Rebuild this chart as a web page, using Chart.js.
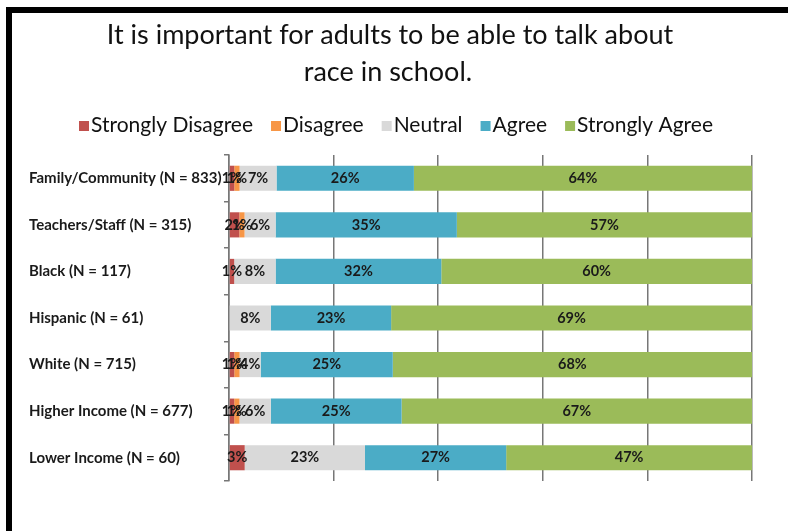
<!DOCTYPE html>
<html>
<head>
<meta charset="utf-8">
<script src="https://cdn.jsdelivr.net/npm/chart.js@4.4.1/dist/chart.umd.min.js"></script>
<style>
  html, body { margin: 0; padding: 0; background: #fff; }
  #wrap { position: relative; width: 788px; height: 531px; }
  #frame {
    position: absolute; left: 6px; top: 7px; right: 0; bottom: 0;
    border-top: 6px solid #000; border-left: 6px solid #000;
    pointer-events: none;
  }
</style>
</head>
<body>
<div id="wrap">
  <canvas id="raceChart" width="788" height="531"></canvas>
  <div id="frame"></div>
</div>
<script>
const titleLines = ['It is important for adults to be able to talk about', 'race in school.'];
const groups = [
  'Family/Community (N = 833)',
  'Teachers/Staff (N = 315)',
  'Black (N = 117)',
  'Hispanic (N = 61)',
  'White (N = 715)',
  'Higher Income (N = 677)',
  'Lower Income (N = 60)'
];
const responses = ['Strongly Disagree', 'Disagree', 'Neutral', 'Agree', 'Strongly Agree'];
const colors = ['#c0504d', '#f79646', '#d9d9d9', '#4bacc6', '#9bbb59'];

// percent of each group giving each answer
const stronglyDisagree = [1, 2, 1, 0, 1, 1, 3];
const disagree = [1, 1, 0, 0, 1, 1, 0];
const neutral = [7, 6, 8, 8, 4, 6, 23];
const agree = [26, 35, 32, 23, 25, 25, 27];
const stronglyAgree = [64, 57, 60, 69, 68, 67, 47];

const series = [stronglyDisagree, disagree, neutral, agree, stronglyAgree];
// rounded percents don't always add to 100, so scale each row to fill the bar
const rowTotals = groups.map((g, j) => series.reduce((s, arr) => s + arr[j], 0));

const FONT = 'Lato, "Liberation Sans", sans-serif';

// percent labels in the middle of each segment
const segmentLabels = {
  id: 'segmentLabels',
  afterDatasetsDraw(chart) {
    const ctx = chart.ctx;
    ctx.save();
    ctx.font = 'bold 14.5px ' + FONT;
    ctx.fillStyle = '#1a1a1a';
    ctx.textAlign = 'center';
    ctx.textBaseline = 'middle';
    chart.data.datasets.forEach((ds, i) => {
      chart.getDatasetMeta(i).data.forEach((bar, j) => {
        const v = ds.values[j];
        if (!v) return;
        const p = bar.getProps(['x', 'y', 'base'], true);
        ctx.fillText(v + '%', (p.x + p.base) / 2, p.y);
      });
    });
    ctx.restore();
  }
};

// two-line title and the legend row with tight boxes
const header = {
  id: 'header',
  afterDraw(chart) {
    const ctx = chart.ctx;
    ctx.save();
    ctx.fillStyle = '#111';
    ctx.textAlign = 'center';
    ctx.textBaseline = 'middle';
    ctx.font = '27px ' + FONT;
    ctx.fillText(titleLines[0], 390, 35);
    ctx.fillText(titleLines[1], 388, 72);

    ctx.font = '21px ' + FONT;
    ctx.textAlign = 'left';
    const box = 10, gap = 2, spacing = 18;
    const widths = responses.map(r => ctx.measureText(r).width);
    const total = widths.reduce((s, w) => s + box + gap + w, 0) + spacing * (responses.length - 1);
    let x = 396 - total / 2;
    const y = 125;
    responses.forEach((r, i) => {
      ctx.fillStyle = colors[i];
      ctx.fillRect(x, y - 4, box, box);
      ctx.fillStyle = '#111';
      ctx.fillText(r, x + box + gap, y);
      x += box + gap + widths[i] + spacing;
    });
    ctx.restore();
  }
};

new Chart(document.getElementById('raceChart'), {
  type: 'bar',
  data: {
    labels: groups,
    datasets: responses.map((r, i) => ({
      label: r,
      values: series[i],
      data: series[i].map((v, j) => v / rowTotals[j] * 100),
      backgroundColor: colors[i],
      borderWidth: 0,
      categoryPercentage: 1,
      barPercentage: 0.54
    }))
  },
  options: {
    indexAxis: 'y',
    responsive: false,
    animation: false,
    layout: { padding: { left: 29, right: 36, top: 155, bottom: 50 } },
    plugins: {
      legend: { display: false },
      title: { display: false },
      tooltip: { enabled: false }
    },
    scales: {
      x: {
        stacked: true,
        min: 0,
        max: 100,
        ticks: { display: false, stepSize: 20 },
        grid: { color: '#777', lineWidth: 1.5, drawTicks: false },
        border: { display: false }
      },
      y: {
        stacked: true,
        afterFit(scale) { scale.width = 200; },
        ticks: {
          crossAlign: 'far',
          color: '#1a1a1a',
          font: { family: FONT, size: 15, weight: 'bold' }
        },
        grid: { drawOnChartArea: false, tickLength: 5, color: '#777', lineWidth: 1.5 },
        border: { color: '#777', width: 1.5 }
      }
    }
  },
  plugins: [segmentLabels, header]
});
</script>
</body>
</html>
